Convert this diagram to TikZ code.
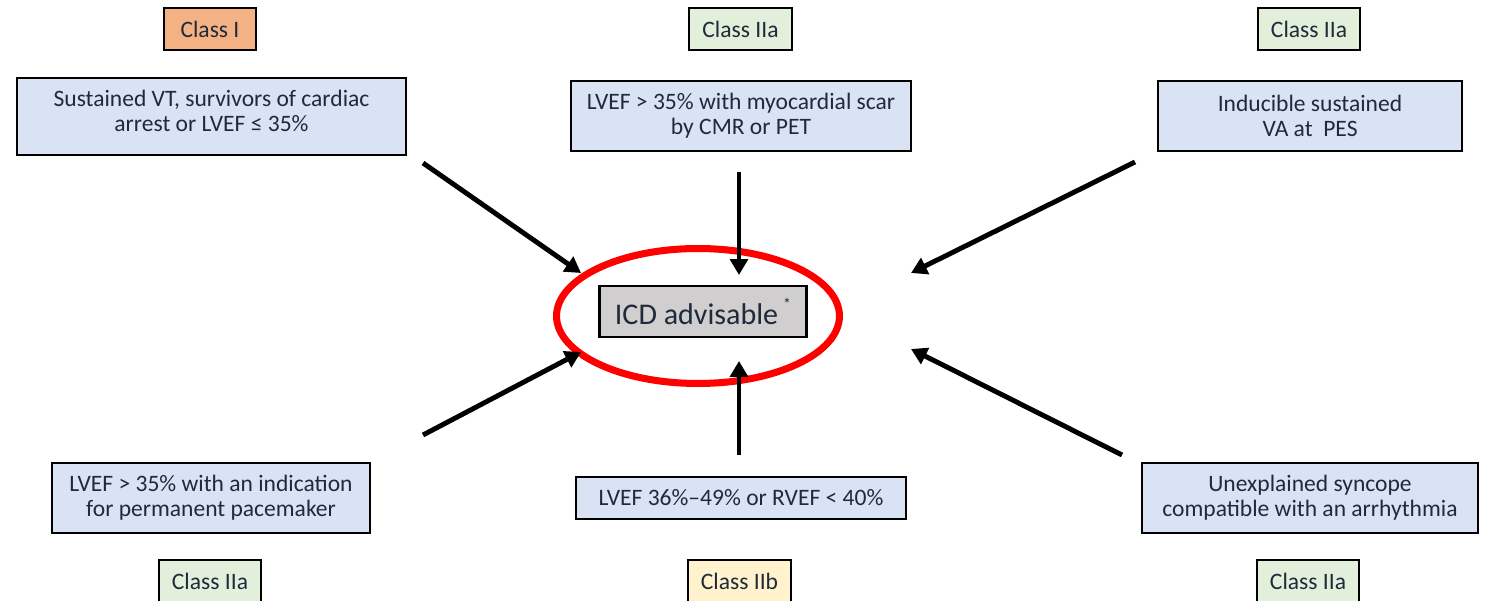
\documentclass[tikz,border=0pt]{standalone}
\usepackage{fontspec}
\setmainfont{Carlito}
\usetikzlibrary{arrows.meta}
\definecolor{txt}{HTML}{1F2A3A}
\definecolor{boxblue}{HTML}{DAE3F3}
\definecolor{clsI}{HTML}{F4B183}
\definecolor{clsIIa}{HTML}{E2EFDA}
\definecolor{clsIIb}{HTML}{FFF2CC}
\definecolor{icdgray}{HTML}{D0CECE}
\definecolor{ringred}{HTML}{FF0000}
\tikzset{
  base/.style={draw=black, line width=1.2pt, text=txt, inner sep=0pt, align=center,
    font=\fontsize{13.4}{14.4}\selectfont},
  infobox/.style={base, fill=boxblue},
  classbox/.style={base, minimum width=1.84cm, minimum height=0.84cm},
  arr/.style={line width=2.8pt, -{Triangle[length=9pt,width=10pt]}},
}
\begin{document}
\begin{tikzpicture}[x=0.02cm, y=-0.02cm]
\useasboundingbox (0,0) rectangle (1485,601);
\clip (0,0) rectangle (1485,601);
% class labels
\node[classbox, fill=clsI]   (c1) at (210,29) {Class I};
\node[classbox, fill=clsIIa, minimum width=2.06cm] (c2) at (740.5,29) {Class IIa};
\node[classbox, fill=clsIIa, minimum width=2.04cm] (c3) at (1309,29) {Class IIa};
\node[classbox, fill=clsIIa, minimum width=2.04cm] (c4) at (210,581) {Class IIa};
\node[classbox, fill=clsIIb, minimum width=2.06cm] (c5) at (739.5,581) {Class IIb};
\node[classbox, fill=clsIIa, minimum width=2.04cm] (c6) at (1308,581) {Class IIa};
% info boxes
\node[infobox, minimum width=7.78cm, minimum height=1.54cm, anchor=north west] (b1) at (16,77)
  {Sustained VT, survivors of cardiac\\arrest or LVEF ≤ 35\%\\[-7.6pt]\mbox{}};
\node[infobox, minimum width=6.8cm, minimum height=1.4cm, anchor=north west] (b2) at (570,80)
  {LVEF > 35\% with myocardial scar\\by CMR or PET};
\node[infobox, minimum width=6.08cm, minimum height=1.4cm, anchor=north west] (b3) at (1157,80)
  {Inducible sustained\\VA at~ PES};
\node[infobox, minimum width=6.36cm, minimum height=1.4cm, anchor=north west] (b4) at (51,462)
  {LVEF > 35\% with an indication\\for permanent pacemaker};
\node[infobox, minimum width=6.6cm, minimum height=0.84cm, anchor=north west] (b5) at (575,476)
  {LVEF 36\%–49\% or RVEF < 40\%};
\node[infobox, minimum width=6.72cm, minimum height=1.4cm, anchor=north west] (b6) at (1141,462)
  {Unexplained syncope\\compatible with an arrhythmia};
% centre
\node[base, fill=icdgray, minimum width=4.14cm, minimum height=1.02cm,
  font=\fontsize{17.1}{19}\selectfont] (icd) at (703,311.5) {ICD advisable\,\raisebox{1.0ex}{\fontsize{9}{9}\selectfont*}};
\draw[ringred, line width=4pt] (698,316) ellipse [x radius=2.83cm, y radius=1.35cm];
% arrow endpoints
\coordinate (s1) at (423,163); \coordinate (e1) at (581,273);
\coordinate (s2) at (739,172); \coordinate (e2) at (739,275);
\coordinate (s3) at (1135,162); \coordinate (e3) at (911,273);
\coordinate (s4) at (423,435); \coordinate (e4) at (581,352);
\coordinate (s5) at (739,455); \coordinate (e5) at (739,361);
\coordinate (s6) at (1122,455); \coordinate (e6) at (911,349);
\foreach \i in {1,...,6} {\draw[arr] (s\i) -- (e\i);}
\end{tikzpicture}
\end{document}
